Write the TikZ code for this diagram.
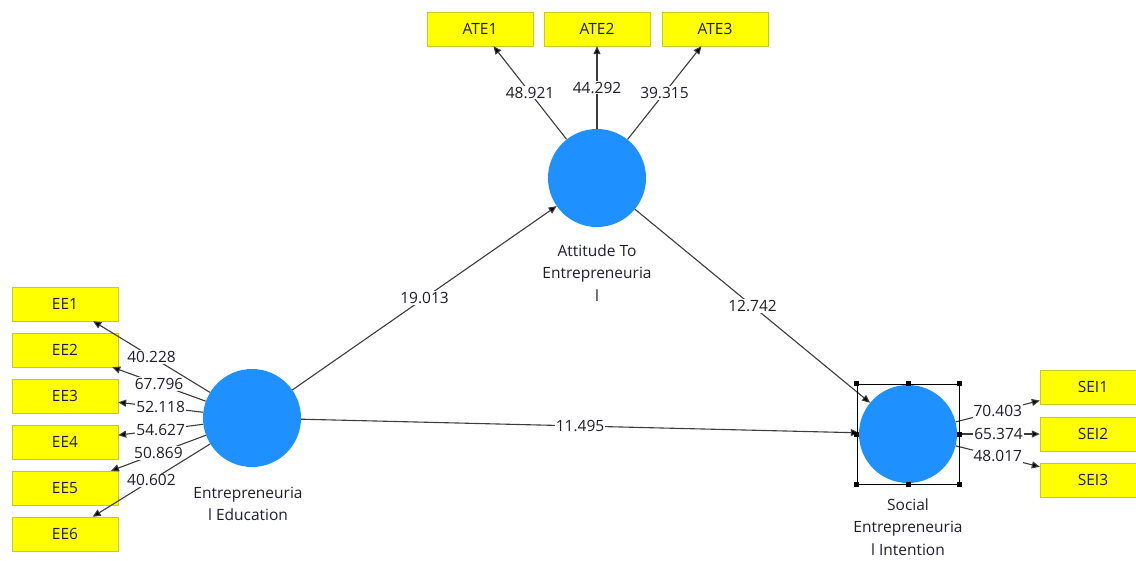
\documentclass[tikz,border=0pt]{standalone}
\usepackage{fontspec}
\setmainfont{Open Sans}
\usetikzlibrary{positioning, arrows.meta}

\definecolor{lvblue}{RGB}{30,144,255}
\definecolor{mvyellow}{RGB}{255,255,0}
\definecolor{mvborder}{RGB}{200,200,40}
\definecolor{pathgray}{RGB}{60,60,60}
\definecolor{txtgray}{RGB}{30,30,40}

\begin{document}
\begin{tikzpicture}[x=1pt, y=-1pt, on grid,
    latent/.style={circle, fill=lvblue, minimum size=98pt, inner sep=0pt},
    ind/.style={draw=mvborder, fill=mvyellow, minimum width=106pt, minimum height=34pt,
      inner sep=0pt, text=txtgray, font=\fontsize{15.5}{17}\selectfont},
    coef/.style={fill=white, inner sep=1pt, text=txtgray, font=\fontsize{15.5}{17}\selectfont},
    lvname/.style={align=center, text=txtgray, font=\fontsize{15.5}{22.5}\selectfont},
    handle/.style={fill=black, minimum size=5pt, inner sep=0pt},
    link/.style={draw=pathgray, line width=1.1pt, -{Triangle[length=8pt,width=7pt]}}]
   \useasboundingbox (0,0) rectangle (1136,560);

   % Latent variables
   \node[latent] (ate) at (597,178) {};
   \node[latent] (ee) at (252,418) {};
   \node[latent] (sei) at (908,434) {};

   \node[lvname] (ate-lbl) at (597,273) {Attitude To\\Entrepreneuria\\l};
   \node[lvname] (ee-lbl) at (248,504) {Entrepreneuria\\l Education};
   \node[lvname] (sei-lbl) at (908,527) {Social\\Entrepreneuria\\l Intention};

   % Indicators
   \node[ind] (ate1) at (480,29) {ATE1};
   \node[ind] (ate2) [right=117pt of ate1] {ATE2};
   \node[ind] (ate3) [right=118pt of ate2] {ATE3};

   \node[ind] (ee1) at (65,304) {EE1};
   \node[ind] (ee2) [below=46pt of ee1] {EE2};
   \node[ind] (ee3) [below=46pt of ee2] {EE3};
   \node[ind] (ee4) [below=46pt of ee3] {EE4};
   \node[ind] (ee5) [below=46pt of ee4] {EE5};
   \node[ind] (ee6) [below=46pt of ee5] {EE6};

   \node[ind] (sei1) at (1093,387) {SEI1};
   \node[ind] (sei2) [below=47pt of sei1] {SEI2};
   \node[ind] (sei3) [below=46pt of sei2] {SEI3};

   % Outer loadings
   \path[link]
    (ate) edge node[coef] {48.921} (ate1)
    (ate) edge node[coef] {44.292} (ate2)
    (ate) edge node[coef] {39.315} (ate3)
    (ee) edge node[coef] {40.228} (ee1)
    (ee) edge node[coef] {67.796} (ee2)
    (ee) edge node[coef] {52.118} (ee3)
    (ee) edge node[coef] {54.627} (ee4)
    (ee) edge node[coef] {50.869} (ee5)
    (ee) edge node[coef] {40.602} (ee6)
    (sei) edge node[coef] {70.403} (sei1)
    (sei) edge node[coef] {65.374} (sei2)
    (sei) edge node[coef] {48.017} (sei3);

   % Path coefficients
   \path[link]
    (ee) edge node[coef] {19.013} (ate)
    (ate) edge node[coef] {12.742} (sei)
    (ee) edge node[coef] {11.495} (sei);

   % Selection frame
   \node[draw=black, line width=0.8pt, minimum width=102pt, minimum height=100pt] (selbox) at (sei) {};
   \foreach \a [count=\i] in {north west, north, north east, east, south east, south, south west, west}
     \node[handle] (hdl\i) at (selbox.\a) {};
\end{tikzpicture}
\end{document}
